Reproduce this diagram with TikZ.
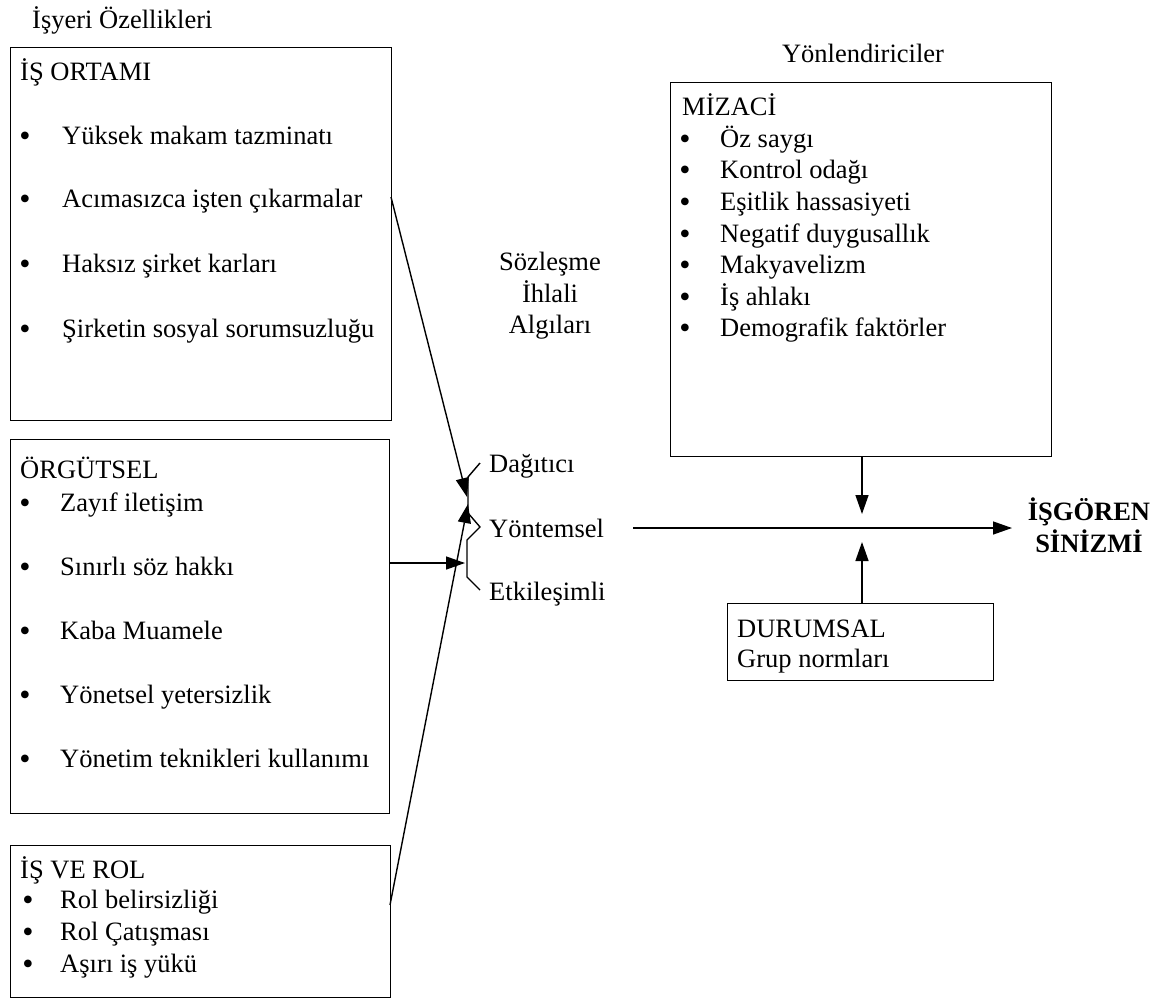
\documentclass[tikz,border=0pt]{standalone}
\usepackage{fontspec}
\setmainfont{Liberation Serif}
\usetikzlibrary{arrows.meta}
\begin{document}
\begin{tikzpicture}[x=1pt,y=-1pt,
  box/.style={draw, line width=1.4pt, inner sep=0pt, anchor=north west},
  txt/.style={anchor=base west, inner sep=0pt, font=\fontsize{26.5}{31}\selectfont},
  ctxt/.style={anchor=base, inner sep=0pt, font=\fontsize{26.5}{31}\selectfont},
  btxt/.style={anchor=base, inner sep=0pt, font=\fontsize{26.5}{31}\selectfont\bfseries},
  bul/.style={anchor=base, inner sep=0pt, yshift=-2pt, text height=14pt, text depth=0pt, font=\fontsize{32}{32}\selectfont},
  conn/.style={line width=1.4pt, -{Triangle[length=19pt,width=13pt]}},
  brace/.style={line width=1.4pt, line join=miter}
]
\useasboundingbox (0,0) rectangle (1168,1001);

% titles
\node[txt] (t1) at (32,28) {İşyeri Özellikleri};
\node[ctxt] (t2) at (863,62) {Yönlendiriciler};

% box 1
\node[box, minimum width=381pt, minimum height=373pt] (box1) at (10,47) {};
\node[txt] (h1) at (20,80) {İŞ ORTAMI};
\node[bul] (b11) at (25,144) {•};
\node[txt] (i11) at (62,144) {Yüksek makam tazminatı};
\node[bul] (b12) at (25,207) {•};
\node[txt] (i12) at (62,207) {Acımasızca işten çıkarmalar};
\node[bul] (b13) at (25,272) {•};
\node[txt] (i13) at (62,272) {Haksız şirket karları};
\node[bul] (b14) at (25,337) {•};
\node[txt] (i14) at (62,337) {Şirketin sosyal sorumsuzluğu};

% box 2
\node[box, minimum width=379pt, minimum height=374pt] (box2) at (10,439) {};
\node[txt] (h2) at (20,478) {ÖRGÜTSEL};
\node[bul] (b21) at (25,511) {•};
\node[txt] (i21) at (60,511) {Zayıf iletişim};
\node[bul] (b22) at (25,575) {•};
\node[txt] (i22) at (60,575) {Sınırlı söz hakkı};
\node[bul] (b23) at (25,639) {•};
\node[txt] (i23) at (60,639) {Kaba Muamele};
\node[bul] (b24) at (25,703) {•};
\node[txt] (i24) at (60,703) {Yönetsel yetersizlik};
\node[bul] (b25) at (25,767) {•};
\node[txt] (i25) at (60,767) {Yönetim teknikleri kullanımı};

% box 3
\node[box, minimum width=380pt, minimum height=152pt] (box3) at (10,845) {};
\node[txt] (h3) at (20,878) {İŞ VE ROL};
\node[bul] (b31) at (28,908) {•};
\node[txt] (i31) at (60,908) {Rol belirsizliği};
\node[bul] (b32) at (28,940) {•};
\node[txt] (i32) at (60,940) {Rol Çatışması};
\node[bul] (b33) at (28,972) {•};
\node[txt] (i33) at (60,972) {Aşırı iş yükü};

% MIZACI box
\node[box, minimum width=381pt, minimum height=374pt] (box4) at (670,82) {};
\node[txt] (h4) at (682,115) {MİZACİ};
\node[bul] (b41) at (685,147) {•};
\node[txt] (i41) at (720,147) {Öz saygı};
\node[bul] (b42) at (685,178) {•};
\node[txt] (i42) at (720,178) {Kontrol odağı};
\node[bul] (b43) at (685,210) {•};
\node[txt] (i43) at (720,210) {Eşitlik hassasiyeti};
\node[bul] (b44) at (685,242) {•};
\node[txt] (i44) at (720,242) {Negatif duygusallık};
\node[bul] (b45) at (685,273) {•};
\node[txt] (i45) at (720,273) {Makyavelizm};
\node[bul] (b46) at (685,305) {•};
\node[txt] (i46) at (720,305) {İş ahlakı};
\node[bul] (b47) at (685,336) {•};
\node[txt] (i47) at (720,336) {Demografik faktörler};

% DURUMSAL box
\node[box, minimum width=266pt, minimum height=77pt] (box5) at (727,603) {};
\node[txt] (h5) at (737,637) {DURUMSAL};
\node[txt] (i51) at (737,667) {Grup normları};

% centre labels
\node[ctxt] (s1) at (550,270) {Sözleşme};
\node[ctxt] (s2) at (550,302) {İhlali};
\node[ctxt] (s3) at (550,333) {Algıları};
\node[txt] (d1) at (489,472) {Dağıtıcı};
\node[txt] (d2) at (489,537) {Yöntemsel};
\node[txt] (d3) at (489,600) {Etkileşimli};

% outcome
\node[btxt] (o1) at (1089,520) {İŞGÖREN};
\node[btxt] (o2) at (1089,552) {SİNİZMİ};

% brace
\draw[brace] (480,463) -- (468,477) -- (468,513) -- (480,527) -- (467,540) -- (467,577) -- (480,590);

% coordinates
\coordinate (a1s) at (391,197);
\coordinate (a1e) at (467,497);
\coordinate (a2s) at (389,563);
\coordinate (a2e) at (465,563);
\coordinate (a3s) at (390,905);
\coordinate (a3e) at (468,504);
\coordinate (m0) at (633,528);
\coordinate (m1) at (1012,528);
\coordinate (dn0) at (862,456);
\coordinate (dn1) at (862,514);
\coordinate (up0) at (862,603);
\coordinate (up1) at (862,542);

% connectors
\draw[conn] (a1s) -- (a1e);
\draw[conn] (a2s) -- (a2e);
\draw[conn] (a3s) -- (a3e);
\draw[conn] (m0) -- (m1);
\draw[conn] (dn0) -- (dn1);
\draw[conn] (up0) -- (up1);
\end{tikzpicture}
\end{document}
